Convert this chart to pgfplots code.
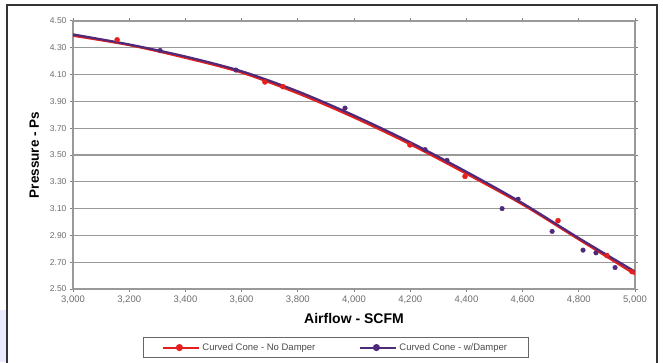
\documentclass[border=0pt]{standalone}
\usepackage{fontspec}
\setmainfont{Liberation Sans}
\usepackage{pgfplots}
\pgfplotsset{compat=1.18}
\definecolor{cred}{RGB}{228,32,30}
\definecolor{cpur}{RGB}{78,42,120}
\definecolor{tickc}{RGB}{110,110,110}
\begin{document}
\begin{tikzpicture}[x=1pt,y=1pt]
\useasboundingbox (0,0) rectangle (663,362);
\fill[white] (0,0) rectangle (663,362);
\fill[blue!8] (0,0) rectangle (7,52);
\draw[line width=2.5pt, black!80] (7,-5) -- (7,357) -- (657,357) -- (657,-5);
\begin{axis}[
  at={(73pt,73pt)}, anchor=south west,
  width=562pt, height=268pt, scale only axis,
  xmin=3000, xmax=5000, ymin=2.5, ymax=4.5,
  xtick={3000,3200,...,5000},
  ytick={2.5,2.7,...,4.51},
  ymajorgrids,
  grid style={line width=1.3pt, black!40},
  axis line style={line width=1.3pt, black!40},
  tick style={line width=1pt, black!50},
  tick align=outside, major tick length=3pt,
  xticklabel style={font=\fontsize{9.5}{10}\selectfont, text=tickc},
  yticklabel style={font=\fontsize{8.5}{9}\selectfont, text=tickc},
  /pgf/number format/assume math mode=true,
  x tick label style={/pgf/number format/.cd, 1000 sep={,}},
  y tick label style={/pgf/number format/.cd, fixed, fixed zerofill, precision=2},
  xlabel={\bfseries Airflow - SCFM},
  ylabel={\bfseries Pressure - Ps},
  xlabel style={font=\fontsize{14}{16}\selectfont, yshift=-3pt},
  ylabel style={font=\fontsize{13.5}{15}\selectfont, yshift=4pt},
  legend style={at={(0.1246,-0.179)}, anchor=north west, legend columns=2,
    draw=black!60, line width=0.8pt, font=\fontsize{9.5}{10}\selectfont,
    /tikz/every even column/.append style={column sep=42pt},
    inner xsep=19pt, inner ysep=4pt, text=black!70},
  legend image code/.code={\draw[#1, mark=none] (0pt,0pt) -- (36pt,0pt);
    \draw[#1] plot coordinates {(16pt,0pt)};},
]
\addlegendimage{cred, line width=2pt, mark=*, mark size=2.5pt}
\addlegendentry{Curved Cone - No Damper}
\addlegendimage{cpur, line width=2pt, mark=*, mark size=2.5pt}
\addlegendentry{Curved Cone - w/Damper\hspace{12pt}}
\addplot[cred, line width=2.2pt, smooth, no markers, forget plot] coordinates {
(3000,4.39) (3200,4.32) (3400,4.225) (3600,4.115) (3800,3.96) (4000,3.78) (4200,3.58) (4400,3.36) (4600,3.13) (4800,2.87) (5000,2.61)};
\addplot[cpur, line width=2.2pt, smooth, no markers, forget plot] coordinates {
(3000,4.40) (3200,4.325) (3400,4.235) (3600,4.125) (3800,3.975) (4000,3.795) (4200,3.595) (4400,3.375) (4600,3.14) (4800,2.88) (5000,2.63)};
\addplot[only marks, cred, mark=*, mark size=2.5pt, forget plot] coordinates {
(3157,4.36) (3683,4.045) (3747,4.01) (4199,3.575) (4395,3.34) (4726,3.01) (4900,2.75) (4989,2.63)};
\addplot[only marks, cpur, mark=*, mark size=2.3pt, forget plot] coordinates {
(3310,4.28) (3580,4.134) (3968,3.85) (4253,3.54) (4331,3.46) (4527,3.10) (4584,3.17) (4705,2.93) (4815,2.79) (4861,2.77) (4929,2.66)};
\end{axis}
\end{tikzpicture}
\end{document}
